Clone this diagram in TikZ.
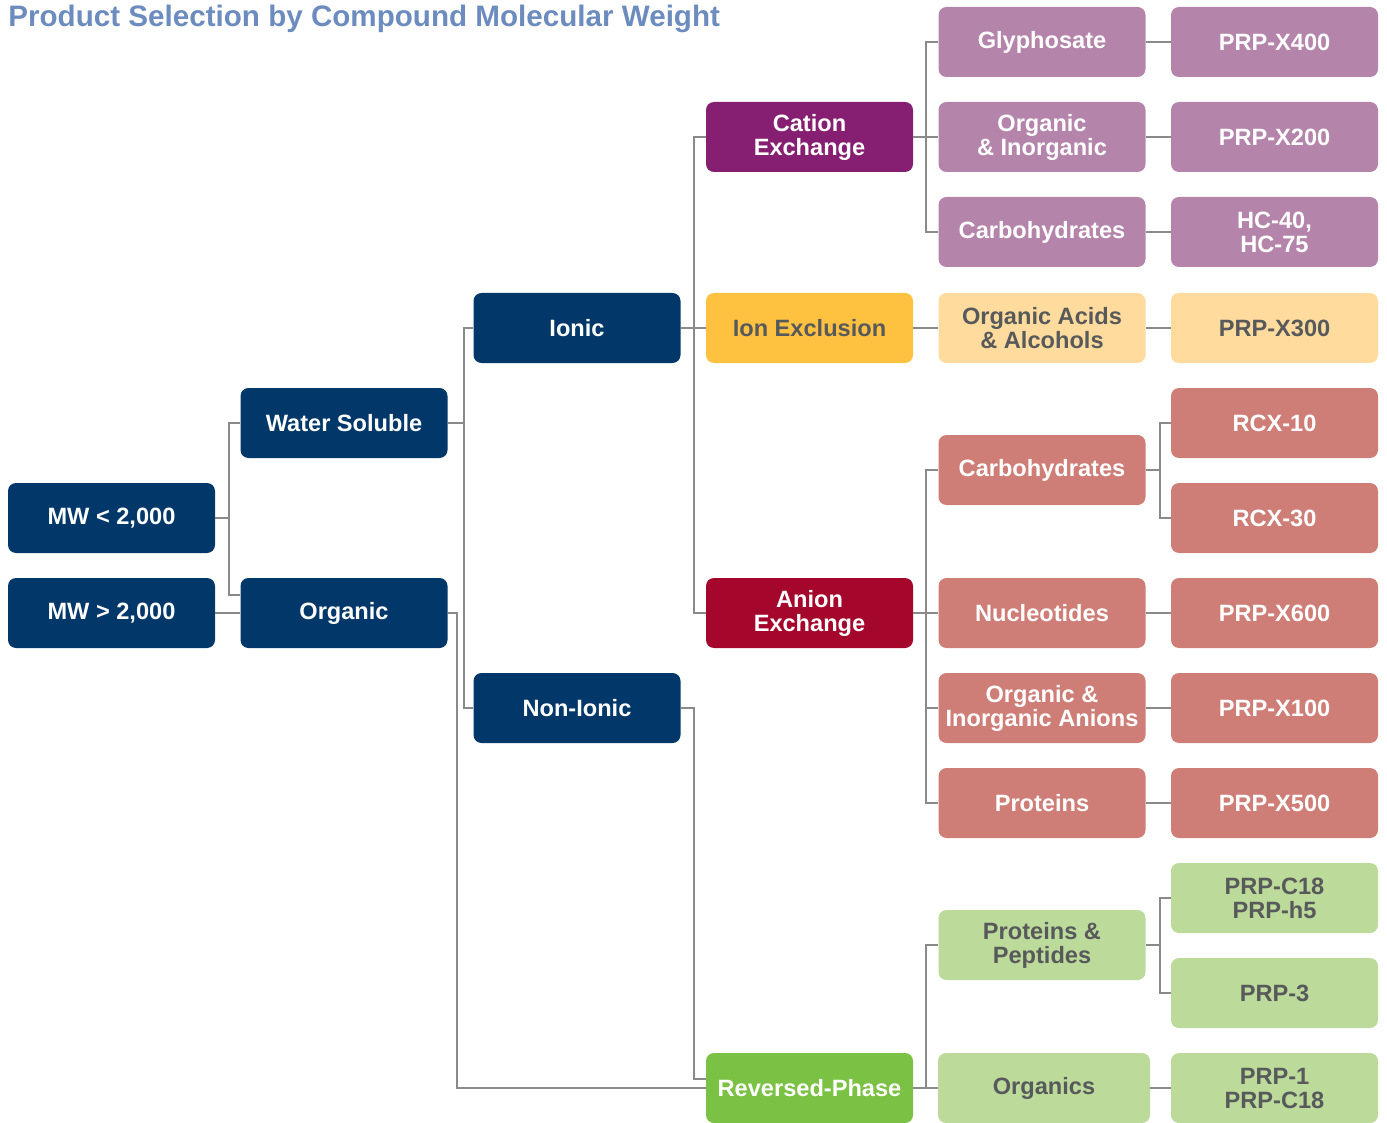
\documentclass[tikz,border=0pt]{standalone}
\usepackage{fontspec}
\setmainfont{Liberation Sans}
\definecolor{navy}{HTML}{02376A}
\definecolor{cationc}{HTML}{861E71}
\definecolor{cationl}{HTML}{B584AA}
\definecolor{exclc}{HTML}{FFC240}
\definecolor{excll}{HTML}{FFDC9D}
\definecolor{anionc}{HTML}{A5062B}
\definecolor{anionl}{HTML}{CE7E77}
\definecolor{revc}{HTML}{7BC143}
\definecolor{revl}{HTML}{BCDB9B}
\definecolor{darktext}{HTML}{58595B}
\definecolor{linegray}{HTML}{8A8A8A}
\definecolor{titleblue}{HTML}{6C8CBF}
\begin{document}
\begin{tikzpicture}[x=0.5pt,y=-0.5pt,
   box/.style={rounded corners=4pt,minimum width=103.5pt,minimum height=35pt,
     inner sep=0pt,align=center,text=white,
     font=\fontsize{11.8}{12}\selectfont\bfseries},
   navybox/.style={box,fill=navy},
   cationbox/.style={box,fill=cationc},
   catbox/.style={box,fill=cationl},
   exclbox/.style={box,fill=exclc,text=darktext},
   exlbox/.style={box,fill=excll,text=darktext},
   anionbox/.style={box,fill=anionc},
   anbox/.style={box,fill=anionl},
   revbox/.style={box,fill=revc},
   rvbox/.style={box,fill=revl,text=darktext},
   link/.style={draw=linegray,line width=1pt}]
   \useasboundingbox (0,0) rectangle (1387,1123);
   % Title
   \node[anchor=base west,inner sep=0pt,text=titleblue,
     font=\fontsize{14.8}{16}\selectfont\bfseries] (title) at (8,27)
     {Product Selection by Compound Molecular Weight};
   % Molecular weight
   \node[navybox] (mwlow)  at (111.5,518) {MW < 2,000};
   \node[navybox] (mwhigh) at (111.5,613) {MW > 2,000};
   % Solubility
   \node[navybox] (water)   at (344,423) {Water Soluble};
   \node[navybox] (organic) at (344,613) {Organic};
   % Ionic / non-ionic
   \node[navybox] (ionic)    at (577,328) {Ionic};
   \node[navybox] (nonionic) at (577,708) {Non-Ionic};
   % Separation modes
   \node[cationbox] (cation)    at (809.5,137) {Cation\\Exchange};
   \node[exclbox]   (exclusion) at (809.5,328) {Ion Exclusion};
   \node[anionbox]  (anion)     at (809.5,613) {Anion\\Exchange};
   \node[revbox]    (reversed)  at (809.5,1088) {Reversed-Phase};
   % Compounds
   \node[catbox] (glyph)    at (1042,42)  {Glyphosate};
   \node[catbox] (orginorg) at (1042,137) {Organic\\\& Inorganic};
   \node[catbox] (carbp)    at (1042,232) {Carbohydrates};
   \node[exlbox] (acids)    at (1042,328) {Organic Acids\\\& Alcohols};
   \node[anbox]  (carbs)    at (1042,470) {Carbohydrates};
   \node[anbox]  (nucleo)   at (1042,613) {Nucleotides};
   \node[anbox]  (anions)   at (1042,708) {Organic \&\\Inorganic Anions};
   \node[anbox]  (proteins) at (1042,803) {Proteins};
   \node[rvbox]  (peptides) at (1042,945) {Proteins \&\\Peptides};
   \node[rvbox,minimum width=106pt] (organics) at (1044,1088) {Organics};
   % Columns
   \node[catbox] (x400)  at (1274.5,42)  {PRP-X400};
   \node[catbox] (x200)  at (1274.5,137) {PRP-X200};
   \node[catbox] (hc)    at (1274.5,232) {HC-40,\\HC-75};
   \node[exlbox] (x300)  at (1274.5,328) {PRP-X300};
   \node[anbox]  (rcx10) at (1274.5,423) {RCX-10};
   \node[anbox]  (rcx30) at (1274.5,518) {RCX-30};
   \node[anbox]  (x600)  at (1274.5,613) {PRP-X600};
   \node[anbox]  (x100)  at (1274.5,708) {PRP-X100};
   \node[anbox]  (x500)  at (1274.5,803) {PRP-X500};
   \node[rvbox]  (c18)   at (1274.5,898) {PRP-C18\\PRP-h5};
   \node[rvbox]  (prp3)  at (1274.5,993) {PRP-3};
   \node[rvbox]  (prp1)  at (1274.5,1088) {PRP-1\\PRP-C18};
   % Connectors, level 1
   \draw[link] (mwlow.east) -- ++(14,0);
   \draw[link] (water.west) -- ++(-11,0) |- ([yshift=9pt]organic.west);
   \draw[link] (mwhigh) -- (organic);
   % Level 2
   \draw[link] (water.east) -- ++(16,0);
   \draw[link] (ionic.west) -- ++(-9,0) |- (nonionic.west);
   \draw[link] (organic.east) -- ++(9,0) |- (reversed.west);
   % Level 3
   \draw[link] (cation.west) -- ++(-12,0) |- (anion.west);
   \draw[link] (ionic) -- (exclusion);
   \draw[link] (nonionic.east) -- ++(13,0) |- ([yshift=4.5pt]reversed.west);
   % Level 4
   \draw[link] (glyph.west) -- ++(-12,0) |- (carbp.west);
   \draw[link] (cation) -- (orginorg);
   \draw[link] (exclusion) -- (acids);
   \draw[link] (carbs.west) -- ++(-12,0) |- (proteins.west);
   \draw[link] (anion) -- (nucleo);
   \draw[link] (anions.west) -- ++(-12,0);
   \draw[link] (peptides.west) -- ++(-12,0) |- (organics.west);
   \draw[link] (reversed) -- (organics);
   % Level 5
   \draw[link] (glyph) -- (x400);
   \draw[link] (orginorg) -- (x200);
   \draw[link] (carbp) -- (hc);
   \draw[link] (acids) -- (x300);
   \draw[link] (rcx10.west) -- ++(-11,0) |- (rcx30.west);
   \draw[link] (carbs.east) -- ++(14,0);
   \draw[link] (nucleo) -- (x600);
   \draw[link] (anions) -- (x100);
   \draw[link] (proteins) -- (x500);
   \draw[link] (c18.west) -- ++(-11,0) |- (prp3.west);
   \draw[link] (peptides.east) -- ++(14,0);
   \draw[link] (organics) -- (prp1);
\end{tikzpicture}
\end{document}
